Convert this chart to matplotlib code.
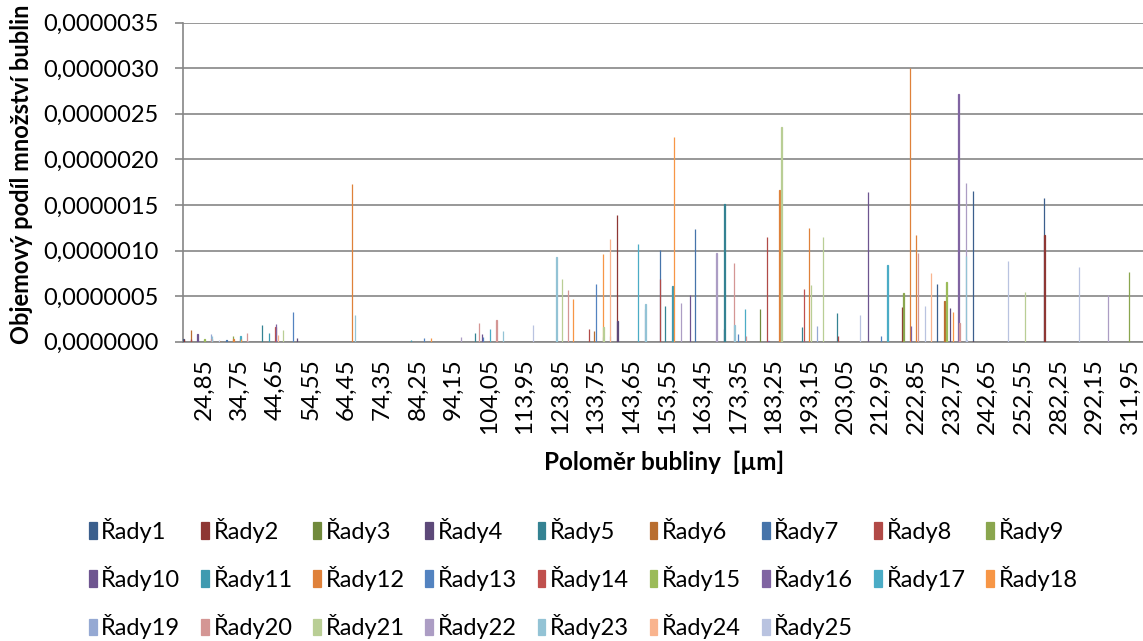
import numpy as np
import matplotlib
matplotlib.use("Agg")
import matplotlib.pyplot as plt
from matplotlib.ticker import FuncFormatter, MultipleLocator

plt.rcParams['font.family'] = ['Lato', 'DejaVu Sans']

# ---------------------------------------------------
# data: 25 series, 162 radius bins (most bins empty)
# each bar = (series number, bin index, value in 1e-6)
# ---------------------------------------------------
n_series = 25
n_cats = 162

series_names = ["Řady%d" % (i + 1) for i in range(n_series)]
series_colors = ["#3B5F8D", "#8E3734", "#718A3C", "#5D4979", "#348292",
                 "#B96E30", "#4674AA", "#B14A47", "#8AA64E", "#6E5590",
                 "#3F9AB0", "#DF813A", "#5383C0", "#C0504D", "#9BBB59",
                 "#8064A2", "#4BACC6", "#F79646", "#95A9D3", "#D49694",
                 "#B9CE95", "#AC9DC4", "#93C3D5", "#F9B48E", "#B9C3E0"]

tick_labels = ["24,85", "34,75", "44,65", "54,55", "64,45", "74,35", "84,25",
               "94,15", "104,05", "113,95", "123,85", "133,75", "143,65",
               "153,55", "163,45", "173,35", "183,25", "193,15", "203,05",
               "212,95", "222,85", "232,75", "242,65", "252,55", "282,25",
               "292,15", "311,95"]
tick_cats = [3 + 6 * i for i in range(len(tick_labels))]

bar_series = [1, 2, 7, 6, 8, 10, 13, 15, 19, 20, 22, 23, 25, 6, 7, 9, 12, 14,
              17, 18, 20, 25, 5, 11, 14, 16, 24, 21, 13, 4, 12, 23,
              11, 13, 18, 22, 5, 20, 10, 13, 14, 17, 20, 23, 25,
              23, 21, 20, 18, 8, 6, 13, 18, 19, 21, 23, 24, 2, 4,
              17, 22, 23, 7, 8, 5, 11, 18, 22, 10, 7, 22, 4, 5,
              20, 23, 13, 17, 20, 3, 8, 16, 12, 19, 21, 5, 14, 16,
              12, 21, 19, 21, 5, 8, 25, 10, 13, 17, 2, 9, 12, 16,
              12, 20, 25, 24, 1, 6, 15, 4, 18, 16, 20, 22, 23, 25,
              1, 2, 25, 21, 1, 2, 25, 22, 9]
bar_cat = [0, 0, 1, 1, 1, 2, 3, 3, 4, 4, 4, 4, 5, 6, 7, 8, 8, 9,
           9, 9, 10, 10, 13, 14, 15, 15, 15, 16, 18, 19, 28, 28,
           38, 40, 41, 46, 49, 49, 50, 50, 51, 51, 52, 53, 58,
           62, 63, 64, 65, 68, 69, 69, 70, 70, 70, 71, 71, 73, 73,
           76, 77, 77, 80, 80, 81, 82, 82, 83, 85, 86, 89, 91, 91,
           92, 92, 93, 94, 94, 97, 98, 98, 100, 100, 100, 104, 104, 104,
           105, 105, 106, 107, 110, 110, 113, 115, 117, 118, 121, 121, 122, 122,
           123, 123, 124, 125, 127, 128, 128, 129, 129, 130, 130, 131, 131, 131,
           133, 133, 138, 141, 145, 145, 150, 155, 159]
bar_value = [0.03, 0.025, 0.02, 0.125, 0.035, 0.085, 0.02, 0.025, 0.085, 0.03,
             0.035, 0.06, 0.02, 0.01, 0.02, 0.06, 0.025, 0.03,
             0.06, 0.03, 0.10, 0.01, 0.18, 0.09, 0.16, 0.195, 0.07, 0.13,
             0.326, 0.04, 1.73, 0.293,
             0.015, 0.04, 0.04, 0.05, 0.10, 0.205, 0.08, 0.05, 0.01, 0.14,
             0.238, 0.12, 0.183,
             0.93, 0.69, 0.567, 0.468, 0.139, 0.114, 0.63, 0.962, 0.055,
             0.165, 0.063, 1.124, 1.393, 0.227,
             1.068, 0.36, 0.414, 1.006, 0.685, 0.392, 0.611, 2.25, 0.428,
             0.516, 1.233, 0.97, 0.139, 1.51,
             0.867, 0.183, 0.085, 0.355, 0.06, 0.355, 1.145, 0.01, 1.664,
             0.951, 2.356, 0.161, 0.575, 0.01,
             1.244, 0.622, 0.176, 1.145, 0.31, 0.06, 0.293, 1.64, 0.06, 0.84,
             0.377, 0.53, 3.006, 0.176,
             1.167, 0.977, 0.395, 0.754, 0.633, 0.45, 0.651, 0.366, 0.33,
             2.715, 0.2, 1.74, 0.94, 0.02,
             1.657, 0.01, 0.882, 0.549, 1.58, 1.171, 0.816, 0.512, 0.761]

values = np.zeros((n_series, n_cats))
for s, c, v in zip(bar_series, bar_cat, bar_value):
    values[s - 1, c] = v * 1e-6

# ---------------------------------------------------
# figure
# ---------------------------------------------------
W, H = 1143, 641
fig = plt.figure(figsize=(W / 100, H / 100), dpi=100)
ax = fig.add_axes([183.3 / W, 1 - 341.7 / H, 961.5 / W, 319 / H])

gap = 1.5
w = 1.0 / (n_series + gap)
cats = np.arange(n_cats)
handles = []
for s in range(n_series):
    mask = values[s] > 0
    h = ax.bar(cats[mask] + (gap / 2 + s + 0.5) * w, values[s][mask], width=w,
               color=series_colors[s], edgecolor=series_colors[s],
               linewidth=0.9, label=series_names[s], zorder=3)
    handles.append(h)

ax.set_xlim(0, n_cats)
ax.set_ylim(0, 3.5e-6)
ax.yaxis.set_major_locator(MultipleLocator(0.5e-6))
ax.yaxis.set_major_formatter(FuncFormatter(lambda v, p: f"{v:.7f}".replace(".", ",")))
ax.yaxis.grid(True, color="#868686", linewidth=1.2)
ax.set_axisbelow(True)

ax.set_xticks(np.array(tick_cats) + 0.5)
ax.set_xticklabels(tick_labels, rotation=90)
ax.tick_params(axis="x", length=0, pad=12, labelsize=17.5)
ax.tick_params(axis="y", length=6, width=1.2, color="#868686", pad=12, labelsize=17)

for side in ["top", "right"]:
    ax.spines[side].set_visible(False)
for side in ["left", "bottom"]:
    ax.spines[side].set_color("#868686")
    ax.spines[side].set_linewidth(1.2)

fig.text(22 / W, 1 - 174 / H, "Objemový podíl množství bublin", rotation=90,
         ha="center", va="center", fontsize=17, fontweight="bold")
fig.text(664 / W, 1 - 462 / H, "Poloměr bubliny  [µm]", ha="center",
         va="center", fontsize=17.5, fontweight="bold")

# legend is filled row by row in the original (9 per row)
ncol = 9
order = [r * ncol + c for c in range(ncol) for r in range(3) if r * ncol + c < n_series]
fig.legend([handles[i] for i in order], [series_names[i] for i in order],
           loc="upper left", bbox_to_anchor=(89 / W, 1 - 518 / H), ncol=ncol,
           frameon=False, fontsize=17, handlelength=0.32, handleheight=0.72,
           handletextpad=0.2, columnspacing=0.88, labelspacing=0.98,
           borderpad=0, borderaxespad=0)

fig.savefig("out.png", dpi=100)
